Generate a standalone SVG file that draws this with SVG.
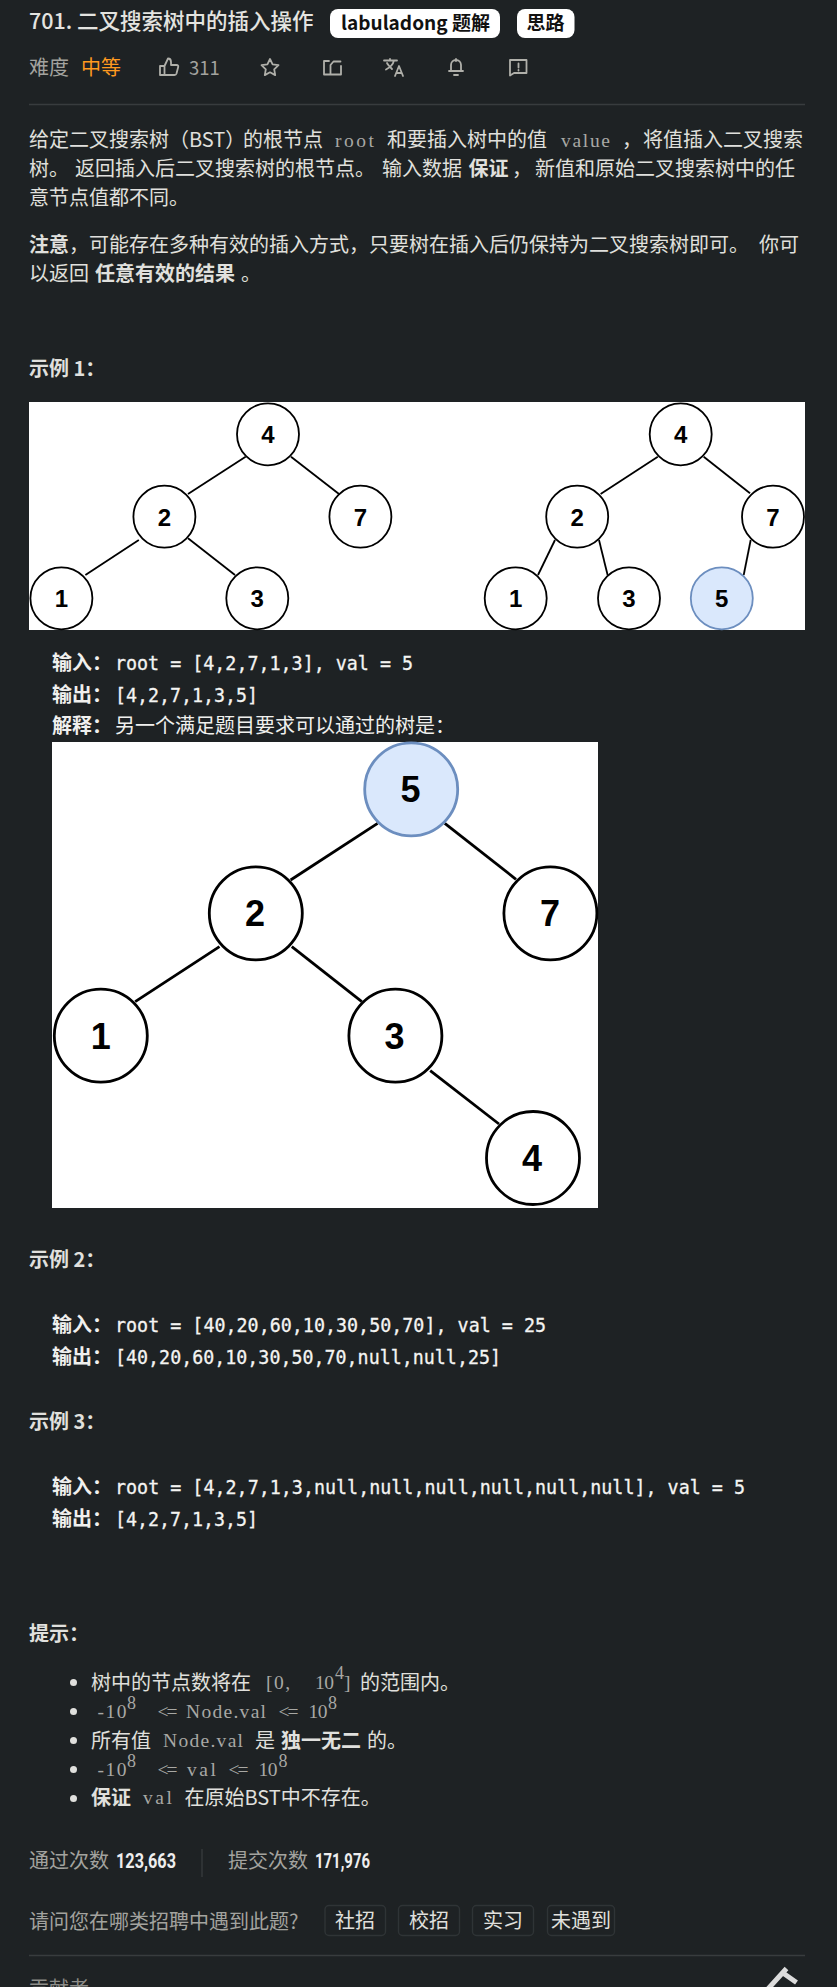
<svg xmlns="http://www.w3.org/2000/svg" width="837" height="1987" viewBox="0 0 837 1987">
<style>
text{font-family:"Noto Sans CJK SC","Noto Sans",sans-serif;font-size:20px;fill:#e0e0dd}
.b{font-weight:700}
.c{font-family:"Liberation Serif","Noto Sans CJK SC",serif;font-size:19.500px;fill:#a8a8a4}
.s{font-family:"Liberation Serif",serif;font-size:18px;fill:#a8a8a4}
.p{font-family:"DejaVu Sans Mono",monospace;font-size:19.500px;fill:#f4f4f2;stroke:#f4f4f2;stroke-width:.3}
.pb{font-weight:700;fill:#f0f0ee}
.g{fill:#a3a39f}
.num{font-family:"Roboto","Liberation Sans",sans-serif;font-weight:700;font-size:20.500px;fill:#eee}
.n{font-family:"Liberation Sans",sans-serif;font-weight:700;fill:#000;text-anchor:middle}
.n1{font-size:24px}.n2{font-size:36px}
.e1 circle{fill:#fff;stroke:#000;stroke-width:1.8}
.e2 circle{fill:#fff;stroke:#000;stroke-width:2.8}
circle.blue{fill:#dae8fc!important;stroke:#6c8ebf!important}
.l1 line{stroke:#000;stroke-width:1.8}
.l2 line{stroke:#000;stroke-width:2.8}
.ic{fill:none;stroke:#b0b0aa;stroke-width:1.8;stroke-linejoin:round;stroke-linecap:round}
.btn{fill:none;stroke:#2f3436;stroke-width:1.4}
.hr{stroke:#383c3e;stroke-width:1.3}
</style>
<rect width="837" height="1987" fill="#1e2224"/>

<g id="header">
<text x="29" y="29" style="font-size:21.5px;fill:#e4e4e0;font-weight:500">701. 二叉搜索树中的插入操作</text>
<rect x="330" y="9" width="170" height="29" rx="8" fill="#fff"/>
<text x="341" y="30" style="font-size:19px;fill:#111;font-weight:700" textLength="149" lengthAdjust="spacingAndGlyphs">labuladong 题解</text>
<rect x="517" y="9" width="57.500" height="29" rx="8" fill="#fff"/>
<text x="526.500" y="30" style="font-size:19px;fill:#111;font-weight:700">思路</text>
<text x="29" y="75" class="g">难度</text>
<text x="81" y="75" style="fill:#ff9a1f">中等</text>
<path class="ic" d="M160 66h4.500v9h-4.500zM164.500 66l3.500-7.500c2 0 3 1.500 3 3.500v3h5.500c1.500 0 2 1 1.700 2l-1.700 6.500c-.3 1-1 1.500-2 1.500h-10"/>
<text x="189" y="75" class="g" style="font-size:18.500px">311</text>
<path class="ic" d="M270 59l2.600 5.400 5.900.8-4.300 4.100 1 5.800-5.200-2.800-5.200 2.800 1-5.800-4.300-4.100 5.900-.8z"/>
<path class="ic" d="M329 61h-5v13.500h17V66M330.500 74V65l3-3.500h7"/>
<path class="ic" d="M384 60.500h13M390 59v1.500M394 60.500c-1 4-4 7-8 9M387 63c1 2 3 4 5 6M395 76l4-10 4 10M396.500 73h5"/>
<path class="ic" d="M456 59v2M451 71v-6a5 5 0 0 1 10 0v6zM449 71h14M454 75h4"/>
<path class="ic" d="M510 60h16.500v13h-12.500l-4 2.500zM518.500 63.500v4M518.500 70v.5"/>
<line class="hr" x1="29" y1="104.500" x2="805" y2="104.500"/>
</g>

<g id="description">
<text x="29" y="147">给定二叉搜索树</text><text x="169" y="147">（BST）</text><text x="243" y="147">的根节点</text>
<text x="335" y="147" class="c" textLength="39">root</text><text x="387" y="147">和要插入树中的值</text><text x="561" y="147" class="c" textLength="49">value</text><text x="622" y="147">，</text><text x="643" y="147">将值插入二叉搜索</text>
<text x="29" y="176">树。</text><text x="75" y="176">返回插入后二叉搜索树的根节点。</text><text x="382" y="176">输入数据</text><text x="468.500" y="176" class="b">保证</text><text x="512" y="176">，</text><text x="535" y="176">新值和原始二叉搜索树中的任</text>
<text x="29" y="205">意节点值都不同。</text>
<text x="29" y="252" class="b">注意</text><text x="69" y="252">，可能存在多种有效的插入方式，只要树在插入后仍保持为二叉搜索树即可。</text><text x="759" y="252">你可</text>
<text x="29" y="280.500">以返回</text><text x="95" y="280.500" class="b">任意有效的结果</text><text x="241" y="280.500">。</text>
<text x="29" y="376" class="b">示例 1：</text>
</g>

<g id="example-1-image">
<rect x="29" y="402" width="776" height="228" fill="#fff"/>
<g id="connectors-1" class="l1">
<line x1="245.600" y1="456.700" x2="188" y2="494"/><line x1="291" y1="456.700" x2="339" y2="494"/>
<line x1="138.800" y1="540" x2="85.400" y2="575"/><line x1="188" y1="538.300" x2="235" y2="575"/>
<line x1="657.800" y1="456.700" x2="600.600" y2="494"/><line x1="703.700" y1="456.700" x2="750" y2="493.300"/>
<line x1="555" y1="540" x2="538" y2="575"/><line x1="599" y1="540" x2="607.600" y2="575"/><line x1="750.700" y1="540" x2="743.700" y2="575"/>
</g>
<g class="e1">
<g id="a-4"><circle cx="268" cy="434.300" r="31"/><text x="268" y="443" class="n n1">4</text></g>
<g id="a-2"><circle cx="164.400" cy="516.700" r="31"/><text x="164.400" y="525.500" class="n n1">2</text></g>
<g id="a-7"><circle cx="360.400" cy="516.700" r="31"/><text x="360.400" y="525.500" class="n n1">7</text></g>
<g id="a-1"><circle cx="61.400" cy="598.300" r="31"/><text x="61.400" y="607" class="n n1">1</text></g>
<g id="a-3"><circle cx="257.300" cy="598.300" r="31"/><text x="257.300" y="607" class="n n1">3</text></g>
<g id="b-4"><circle cx="680.700" cy="434.300" r="31"/><text x="680.700" y="443" class="n n1">4</text></g>
<g id="b-2"><circle cx="577.200" cy="516.700" r="31"/><text x="577.200" y="525.500" class="n n1">2</text></g>
<g id="b-7"><circle cx="773" cy="516.700" r="31"/><text x="773" y="525.500" class="n n1">7</text></g>
<g id="b-1"><circle cx="515.700" cy="598.300" r="31"/><text x="515.700" y="607" class="n n1">1</text></g>
<g id="b-3"><circle cx="629" cy="598.300" r="31"/><text x="629" y="607" class="n n1">3</text></g>
<g id="b-5"><circle class="blue" cx="721.800" cy="598.300" r="31"/><text x="721.800" y="607" class="n n1">5</text></g>
</g>
</g>

<g id="example-1-text">
<text x="52" y="670" class="pb">输入：</text><text x="115" y="670" class="p" textLength="298" lengthAdjust="spacingAndGlyphs">root = [4,2,7,1,3], val = 5</text>
<text x="52" y="702" class="pb">输出：</text><text x="115" y="702" class="p" textLength="143" lengthAdjust="spacingAndGlyphs">[4,2,7,1,3,5]</text>
<text x="52" y="733" class="pb">解释：</text><text x="115" y="733" style="fill:#f0f0ee">另一个满足题目要求可以通过的树是：</text>
</g>

<g id="example-1-image-2">
<rect x="52" y="742" width="546" height="466" fill="#fff"/>
<g id="connectors-2" class="l2">
<line x1="377.600" y1="823.300" x2="290.600" y2="880"/><line x1="444.800" y1="823.300" x2="516" y2="879.300"/>
<line x1="219.500" y1="946.700" x2="135.200" y2="1001.700"/><line x1="291.800" y1="946.700" x2="361.800" y2="1001.700"/>
<line x1="430.200" y1="1070.700" x2="499" y2="1124"/>
</g>
<g class="e2">
<g id="c-5"><circle class="blue" cx="411.200" cy="789.300" r="46.500"/><text x="410.500" y="802" class="n n2">5</text></g>
<g id="c-2"><circle cx="255.800" cy="913.300" r="46.500"/><text x="255" y="926" class="n n2">2</text></g>
<g id="c-7"><circle cx="550.400" cy="913.300" r="46.500"/><text x="550" y="926" class="n n2">7</text></g>
<g id="c-1"><circle cx="100.800" cy="1035.700" r="46.500"/><text x="100.800" y="1048.500" class="n n2">1</text></g>
<g id="c-3"><circle cx="395.400" cy="1035.700" r="46.500"/><text x="394.500" y="1048.500" class="n n2">3</text></g>
<g id="c-4"><circle cx="533" cy="1158" r="46.500"/><text x="532" y="1171" class="n n2">4</text></g>
</g>
</g>

<g id="examples-2-3">
<text x="29" y="1267" class="b">示例 2：</text>
<text x="52" y="1331.500" class="pb">输入：</text><text x="115" y="1331.500" class="p" textLength="431" lengthAdjust="spacingAndGlyphs">root = [40,20,60,10,30,50,70], val = 25</text>
<text x="52" y="1363.500" class="pb">输出：</text><text x="115" y="1363.500" class="p" textLength="386" lengthAdjust="spacingAndGlyphs">[40,20,60,10,30,50,70,null,null,25]</text>
<text x="29" y="1429" class="b">示例 3：</text>
<text x="52" y="1494" class="pb">输入：</text><text x="115" y="1494" class="p" textLength="630" lengthAdjust="spacingAndGlyphs">root = [4,2,7,1,3,null,null,null,null,null,null], val = 5</text>
<text x="52" y="1526" class="pb">输出：</text><text x="115" y="1526" class="p" textLength="143" lengthAdjust="spacingAndGlyphs">[4,2,7,1,3,5]</text>
</g>

<g id="hints">
<text x="29" y="1641" class="b">提示：</text>
<circle cx="73.500" cy="1682.500" r="3.500" fill="#e0e0dd"/><circle cx="73.500" cy="1711.500" r="3.500" fill="#e0e0dd"/><circle cx="73.500" cy="1740.500" r="3.500" fill="#e0e0dd"/><circle cx="73.500" cy="1769.500" r="3.500" fill="#e0e0dd"/><circle cx="73.500" cy="1798.500" r="3.500" fill="#e0e0dd"/>
<text x="91" y="1690">树中的节点数将在</text><text x="266" y="1689" class="c" textLength="24">[0,</text><text x="315" y="1689" class="c" textLength="19">10</text><text x="335" y="1679" class="s">4</text><text x="344" y="1689" class="c">]</text><text x="360" y="1690">的范围内。</text>
<text x="97.500" y="1718" class="c" textLength="29">-10</text><text x="127" y="1709" class="s">8</text><text x="157.500" y="1718" class="c" textLength="20">&lt;=</text><text x="186" y="1718" class="c" textLength="80">Node.val</text><text x="278.500" y="1718" class="c" textLength="20">&lt;=</text><text x="308.500" y="1718" class="c" textLength="19">10</text><text x="328" y="1709" class="s">8</text>
<text x="91" y="1748">所有值</text><text x="163" y="1747" class="c" textLength="80">Node.val</text><text x="255" y="1748">是</text><text x="281" y="1748" class="b">独一无二</text><text x="367" y="1748">的。</text>
<text x="97.500" y="1776" class="c" textLength="29">-10</text><text x="127" y="1767" class="s">8</text><text x="157.500" y="1776" class="c" textLength="20">&lt;=</text><text x="187" y="1776" class="c" textLength="29">val</text><text x="228.500" y="1776" class="c" textLength="20">&lt;=</text><text x="258.500" y="1776" class="c" textLength="19">10</text><text x="278.500" y="1767" class="s">8</text>
<text x="91" y="1805" class="b">保证</text><text x="143" y="1804" class="c" textLength="29">val</text><text x="184.500" y="1805">在原始BST中不存在。</text>
</g>

<g id="stats">
<text x="29" y="1868" class="g">通过次数</text>
<text x="116" y="1868" class="num" textLength="60" lengthAdjust="spacingAndGlyphs">123,663</text>
<line x1="202" y1="1849" x2="202" y2="1877" stroke="#383c3e" stroke-width="1.300"/>
<text x="228" y="1868" class="g">提交次数</text>
<text x="315" y="1868" class="num" textLength="55" lengthAdjust="spacingAndGlyphs">171,976</text>
</g>

<g id="survey">
<text x="29" y="1929" class="g">请问您在哪类招聘中遇到此题?</text>
<g id="btn-1"><rect class="btn" x="325" y="1905.500" width="60.500" height="30" rx="4"/><text x="335" y="1928">社招</text></g>
<g id="btn-2"><rect class="btn" x="398.500" y="1905.500" width="61" height="30" rx="4"/><text x="409" y="1928">校招</text></g>
<g id="btn-3"><rect class="btn" x="472.500" y="1905.500" width="61" height="30" rx="4"/><text x="483" y="1928">实习</text></g>
<g id="btn-4"><rect class="btn" x="547.500" y="1905.500" width="67" height="30" rx="4"/><text x="551" y="1928">未遇到</text></g>
</g>

<line class="hr" x1="29" y1="1955.500" x2="805" y2="1955.500"/>
<text x="29" y="1996" style="fill:#8d8d89">贡献者</text>
<path d="M767 1990l19.500-21.500M783 1973l13.500 9.500" fill="none" stroke="#dcdcdc" stroke-width="5"/>
</svg>
